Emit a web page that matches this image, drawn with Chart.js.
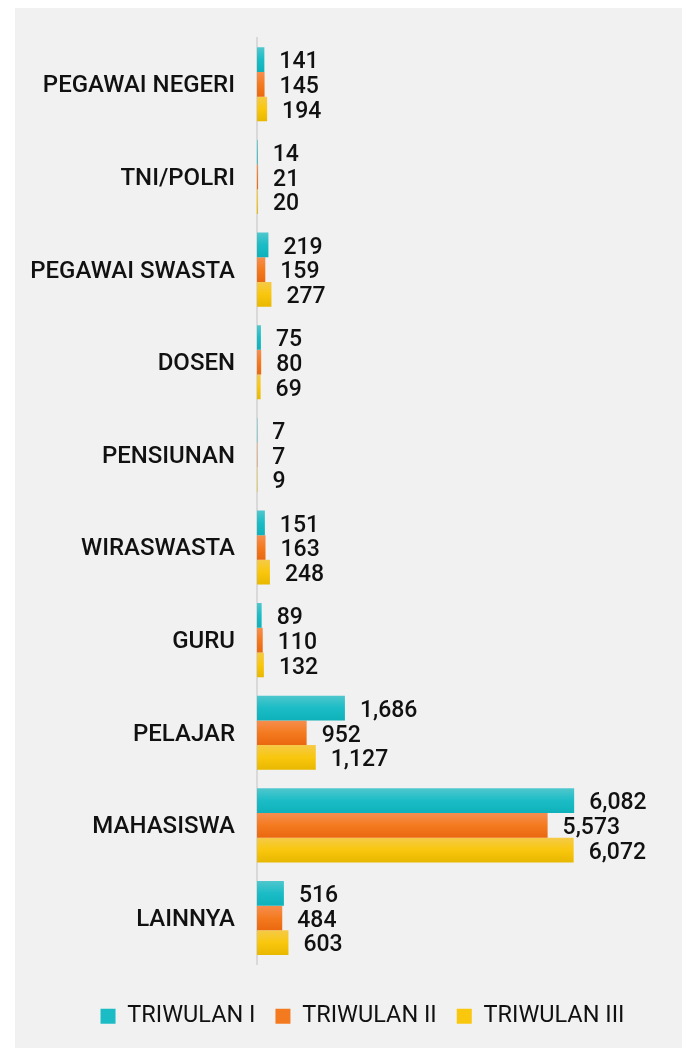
<!DOCTYPE html>
<html>
<head>
<meta charset="utf-8">
<script src="https://cdn.jsdelivr.net/npm/chart.js@4.4.1/dist/chart.umd.min.js"></script>
<style>
  html, body { margin: 0; padding: 0; background: #ffffff; }
  #panel { position: absolute; left: 15px; top: 8px; width: 667px; height: 1040px; background: #f1f1f1; }
</style>
</head>
<body>
<div id="panel"><canvas id="jobChart"></canvas></div>
<script>
const categories = ["PEGAWAI NEGERI", "TNI/POLRI", "PEGAWAI SWASTA", "DOSEN", "PENSIUNAN",
    "WIRASWASTA", "GURU", "PELAJAR", "MAHASISWA", "LAINNYA"];
const triwulan1 = [141, 14, 219, 75, 7, 151, 89, 1686, 6082, 516];
const triwulan2 = [145, 21, 159, 80, 7, 163, 110, 952, 5573, 484];
const triwulan3 = [194, 20, 277, 69, 9, 248, 132, 1127, 6072, 603];
const seriesNames = ["TRIWULAN I", "TRIWULAN II", "TRIWULAN III"];

// top / middle / bottom shades for each series
const shades = [
    ["#4fc7cd", "#1bbcc6", "#0eb1ba"],
    ["#f68e50", "#f47a1f", "#ea680f"],
    ["#f5ca48", "#f9c70d", "#e8b700"]
];

// paints each bar with a vertical gradient
const gradientBars = {
    id: "gradientBars",
    beforeDatasetsDraw(chart) {
        const ctx = chart.ctx;
        chart.data.datasets.forEach(function (ds, i) {
            chart.getDatasetMeta(i).data.forEach(function (bar) {
                let top = bar.y - bar.height / 2;
                let g = ctx.createLinearGradient(0, top, 0, top + bar.height);
                g.addColorStop(0, shades[i][0]);
                g.addColorStop(0.5, shades[i][1]);
                g.addColorStop(1, shades[i][2]);
                bar.options = Object.assign({}, bar.options, { backgroundColor: g });
            });
        });
    }
};

// value labels to the right of the bars
const valueLabels = {
    id: "valueLabels",
    afterDatasetsDraw(chart) {
        const ctx = chart.ctx;
        ctx.save();
        ctx.font = "500 23px Roboto";
        ctx.fillStyle = "#111111";
        ctx.textAlign = "left";
        ctx.textBaseline = "middle";
        chart.data.datasets.forEach(function (ds, i) {
            chart.getDatasetMeta(i).data.forEach(function (bar, j) {
                ctx.fillText(ds.data[j].toLocaleString("en-US"), bar.x + 15, bar.y + 3);
            });
        });
        ctx.restore();
    }
};

// legend row sits a bit right of the canvas centre in the original
const shiftLegend = {
    id: "shiftLegend",
    afterLayout(chart) {
        chart.legend.left = 28;
    }
};

document.addEventListener("DOMContentLoaded", function () {
    let ctx = document.getElementById("jobChart").getContext("2d");

    new Chart(ctx, {
        type: "bar",
        data: {
            labels: categories,
            datasets: [
                { label: seriesNames[0], data: triwulan1, backgroundColor: shades[0][1] },
                { label: seriesNames[1], data: triwulan2, backgroundColor: shades[1][1] },
                { label: seriesNames[2], data: triwulan3, backgroundColor: shades[2][1] }
            ]
        },
        options: {
            indexAxis: "y",
            responsive: true,
            maintainAspectRatio: false,
            animation: false,
            categoryPercentage: 0.8,
            barPercentage: 1.0,
            layout: { padding: { left: 16, right: 0, top: 30, bottom: 10 } },
            scales: {
                x: { display: false, min: 0, max: 8150 },
                y: {
                    grid: { display: false, drawTicks: false },
                    border: { display: true, color: "#d9d9d9", width: 2 },
                    ticks: {
                        padding: 22,
                        labelOffset: 2,
                        color: "#111111",
                        font: { family: "Roboto", size: 24, weight: "500", lineHeight: 0.62 }
                    },
                    afterFit: function (scale) { scale.width = 226; }
                }
            },
            plugins: {
                legend: {
                    position: "bottom",
                    // empty title only adds some room above the legend row
                    title: { display: true, text: "", padding: 0, font: { size: 16.8 } },
                    labels: {
                        boxWidth: 15,
                        boxHeight: 15,
                        padding: 20,
                        color: "#111111",
                        font: { family: "Roboto", size: 23.5 }
                    }
                },
                tooltip: { enabled: false }
            }
        },
        plugins: [gradientBars, valueLabels, shiftLegend]
    });
});
</script>
</body>
</html>
